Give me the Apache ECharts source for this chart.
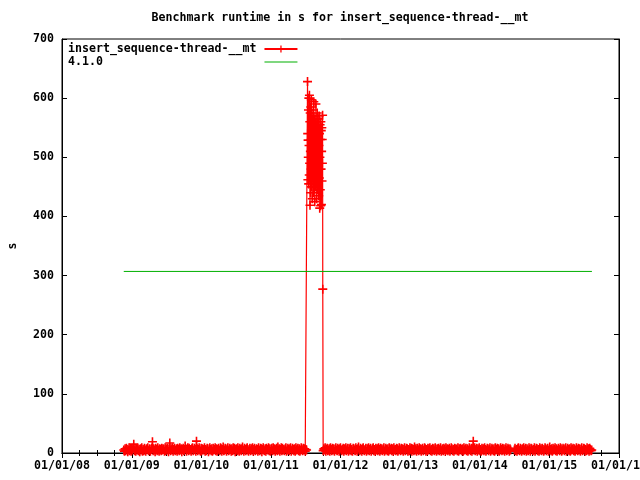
<!DOCTYPE html>
<html>
<head>
<meta charset="utf-8">
<script src="https://cdn.jsdelivr.net/npm/echarts@6/dist/echarts.min.js"></script>
<style>
  html,body{margin:0;padding:0;background:#fff;}
  #chart{width:640px;height:480px;}
</style>
</head>
<body>
<div id="chart"></div>
<script>
// benchmark runtime, gnuplot look
const titleText = 'Benchmark runtime in s for insert_sequence-thread-__mt'
const seriesNames = ['insert_sequence-thread-__mt', '4.1.0']
const axisRange = ['2008-01-01', '2016-01-01']
const stepDays = 3.5

// low runs before the slow period (twice a week)
const runsAStart = '2008-11-20'
const runsA = [
  5,3,7,4,8,6,2,5,9,4,6,3,7,5,8,15,4,6,3,7,
  5,8,4,6,2,7,5,9,3,6,4,8,5,3,7,6,9,4,5,7,
  3,6,8,19,4,7,5,2,8,6,4,9,5,3,7,6,4,8,5,7,
  6,3,9,4,7,5,8,2,6,17,4,7,5,9,3,6,8,4,5,7,
  3,8,6,4,9,5,7,2,6,8,4,5,12,7,3,6,9,4,8,5,
  6,3,7,9,4,5,8,6,3,20,7,4,6,9,5,3,8,4,7,6,
  5,9,3,6,4,8,7,2,5,9,6,4,7,3,8,5,6,9,4,7,
  3,6,8,5,4,9,7,3,6,10,4,5,8,6,3,7,9,4,5,8,
  6,3,7,4,9,5,8,2,6,7,4,9,5,3,8,6,4,7,10,5,
  3,8,6,4,7,9,5,3,6,8,4,7,5,9,3,6,8,4,5,7,
  6,3,9,5,4,8,7,2,6,9,5,4,7,3,8,6,5,9,4,7,
  3,6,8,4,9,5,7,3,6,8,4,10,5,7,3,6,9,4,8,5,
  6,4,7,9,3,5,8,6,4,7,9,3,5,8,6,4,7,3,9,5,
  6,8,4,7,3,5,9,6,4,8,5,7,3,6,5
]
// slow period, summer 2011 (daily)
const runsSlowStart = '2011-07-12'
const runsSlow = [
  628,540,462,529,500,580,455,600,520,470,
  605,490,560,419,575,510,440,585,530,480,
  597,450,545,500,570,430,555,490,520,460,
  580,510,440,594,470,535,500,565,425,515,
  545,480,560,450,590,505,470,540,430,555,
  495,575,460,525,445,565,510,480,550,435,
  520,570,465,540,414,500,555,445,530,418,
  560,480,545,420,510,550,460,530,490,571,
  277
]
const runsCStart = '2011-10-02'
const runsC = [
  4,7,5,9,3,6,8,4,5,7,3,9,6,4,8,5,7,3,6,9,
  5,4,8,6,3,7,9,5,4,6,8,3,7,5,9,4,6,8,3,7,
  5,9,4,6,3,8,7,5,4,9,6,3,7,10,5,4,8,6,3,7,
  9,5,4,6,8,3,7,5,9,4,6,8,3,5,7,9,4,6,3,8,
  5,7,4,9,6,3,8,5,7,4,6,9,3,5,8,6,4,7,3,9,
  5,6,8,4,7,3,9,5,6,4,8,7,3,5,9,6,4,8,5,7,
  3,6,9,4,5,8,7,3,6,4,9,5,8,3,7,6,4,10,5,7,
  3,8,6,4,9,5,7,3,6,8,4,5,9,7,3,6,4,8,5,7,
  9,4,6,3,8,5,7,4,9,6,3,7,5,8,4,6,9,3,5,7,
  4,8,6,3,9,5,7,4,6,8,3,5,9,7,4,6,3,8,5,7,
  6,4,9,3,7,5,8,6,4,7,3,9,5,6,8,4,7,3,5,9,
  6,4,8,3,7,20,5,9,4,6,8,3,7,5,9,4,6,3,8,5,
  7,4,9,6,3,5,8,7,4,6,9,3,5,8,6,4,7,3,9,5,
  6,8,4,7,3,5,9,6,4,8,5,7,3,6,9,4,5,8,6,3,
  7,5
]
const runsDStart = '2014-07-01'
const runsD = [
  5,8,4,6,3,7,9,5,4,8,6,3,7,5,9,4,6,8,3,7,
  5,4,9,6,3,8,7,5,4,6,9,3,5,8,7,4,6,3,9,5,
  7,4,8,6,3,5,9,7,4,6,8,3,5,10,6,4,7,3,8,5,
  6,9,4,7,3,5,8,6,4,9,7,3,5,8,6,4,7,9,3,5,
  8,6,4,7,3,9,5,6,8,4,7,3,5,9,6,4,8,5,7,3,
  6,9,4,5,8,7,3,6,4,9,5,7,3,8,6,4,5
]
// release reference line
const versionDates = ['2008-11-20', '2015-08-12']
const versionValue = 307

const DAY = 86400000
function toTime(s){
  const p = s.split('-').map(Number)
  return Date.UTC(p[0], p[1]-1, p[2])
}
function segment(start, step, vals){
  const t0 = toTime(start)
  return vals.map((v, i) => [t0 + i*step*DAY, v])
}

const runs = [].concat(
  segment(runsAStart, stepDays, runsA),
  segment(runsSlowStart, 1, runsSlow),
  segment(runsCStart, stepDays, runsC),
  segment(runsDStart, stepDays, runsD)
)
const version = versionDates.map(d => [toTime(d), versionValue])

const font = 'DejaVu Sans Mono'
const txt = { fontFamily: font, fontWeight: 'bold', fontSize: 11.6, color: '#000' }
const plus = 'path://M3.7,0H5.3V3.7H9V5.3H5.3V9H3.7V5.3H0V3.7H3.7Z'
const red = '#ff0000'
const green = '#00b000'

const chart = echarts.init(document.getElementById('chart'), null, {renderer:'canvas'})
const option = {
  animation: false,
  useUTC: true,
  backgroundColor: '#fff',
  title: {
    text: titleText,
    left: 340,
    top: 12,
    textAlign: 'center',
    padding: 0,
    textStyle: Object.assign({}, txt)
  },
  legend: {
    orient: 'vertical',
    left: 68,
    top: 43,
    padding: 0,
    align: 'right',
    itemWidth: 33,
    itemHeight: 9,
    itemGap: 1,
    formatter: name => name.padEnd(27, ' '),
    textStyle: Object.assign({ lineHeight: 12, padding: [0, 3, 0, 0] }, txt),
    data: [
      { name: seriesNames[0] },
      { name: seriesNames[1], icon: 'path://M0,0H33V1H0Z' }
    ]
  },
  grid: {
    left: 62, right: 21, top: 39, bottom: 27,
    containLabel: false,
    outerBoundsMode: 'none',
    show: true, borderColor: '#000', borderWidth: 1
  },
  xAxis: [
    {
      type: 'time',
      min: toTime(axisRange[0]),
      max: toTime(axisRange[1]),
      splitNumber: 8,
      axisLine: { lineStyle: { color: '#000', width: 1 } },
      axisTick: { inside: true, length: 5, lineStyle: { color: '#000' } },
      minorTick: { show: true, splitNumber: 4, length: 3, lineStyle: { color: '#000' } },
      splitLine: { show: false },
      axisLabel: Object.assign({
        margin: 7,
        showMinLabel: true,
        showMaxLabel: true,
        hideOverlap: false,
        formatter: '{MM}/{dd}/{yy}'
      }, txt)
    },
    {
      type: 'time',
      position: 'top',
      min: toTime(axisRange[0]),
      max: toTime(axisRange[1]),
      splitNumber: 8,
      axisLine: { lineStyle: { color: '#000', width: 1 } },
      axisTick: { inside: true, length: 5, lineStyle: { color: '#000' } },
      minorTick: { show: true, splitNumber: 4, length: 3, lineStyle: { color: '#000' } },
      splitLine: { show: false },
      axisLabel: { show: false }
    }
  ],
  yAxis: [
    {
      type: 'value',
      min: 0, max: 700, interval: 100,
      name: 's',
      nameLocation: 'middle',
      nameRotate: 90,
      nameGap: 43,
      nameTextStyle: Object.assign({}, txt),
      axisLine: { show: true, lineStyle: { color: '#000', width: 1 } },
      axisTick: { show: true, inside: true, length: 5, lineStyle: { color: '#000' } },
      splitLine: { show: false },
      axisLabel: Object.assign({ margin: 8 }, txt)
    },
    {
      type: 'value',
      position: 'right',
      min: 0, max: 700, interval: 100,
      axisLine: { show: true, lineStyle: { color: '#000', width: 1 } },
      axisTick: { show: true, inside: true, length: 5, lineStyle: { color: '#000' } },
      splitLine: { show: false },
      axisLabel: { show: false }
    }
  ],
  series: [
    {
      name: seriesNames[0],
      type: 'line',
      data: runs,
      symbol: plus,
      symbolSize: 9,
      showAllSymbol: true,
      lineStyle: { color: red, width: 1.2 },
      itemStyle: { color: red },
      emphasis: { disabled: true },
      z: 2
    },
    {
      name: seriesNames[1],
      type: 'line',
      data: version,
      symbol: 'none',
      lineStyle: { color: green, width: 1 },
      itemStyle: { color: green },
      emphasis: { disabled: true },
      z: 3
    }
  ]
}
chart.setOption(option)
</script>
</body>
</html>
